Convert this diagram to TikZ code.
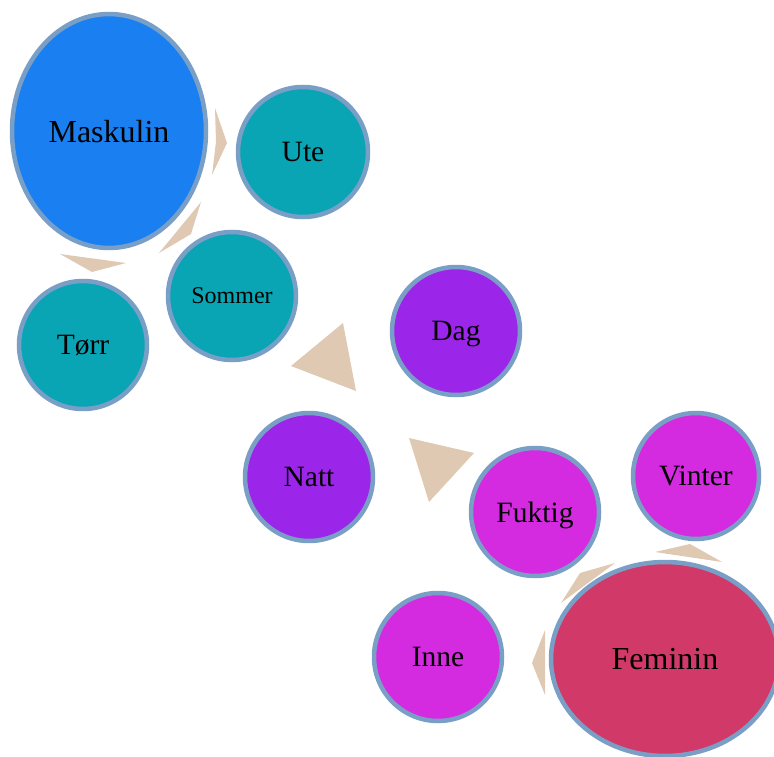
\documentclass[tikz,border=0pt]{standalone}
\usepackage{fontspec}
\setmainfont{Liberation Serif}
\usetikzlibrary{shapes.geometric}
\definecolor{rim}{HTML}{7A9FC7}
\definecolor{cblue}{HTML}{1A80F2}
\definecolor{cteal}{HTML}{0AA5B5}
\definecolor{cpurple}{HTML}{9B25E8}
\definecolor{cmag}{HTML}{D42AE0}
\definecolor{crose}{HTML}{D13A68}
\definecolor{tri}{HTML}{DFC9B2}
\tikzset{
  bubble/.style={circle, draw=rim, line width=4.5pt, inner sep=0pt, text depth=0pt, minimum size=#1, font=\fontsize{29.5}{34}\selectfont},
  bigbubble/.style={ellipse, draw=rim, line width=4.5pt, inner sep=0pt, text depth=0pt, font=\fontsize{32}{38}\selectfont},
  arrowtri/.style={fill=tri, draw=none}
}
\begin{document}
\begin{tikzpicture}[x=1pt,y=-1pt]
\useasboundingbox (0,0) rectangle (774,757);
% triangles
\fill[arrowtri] (215,108) -- (227,143) -- (212,175) -- (216,142) -- cycle;
\fill[arrowtri] (201,202) -- (191,234) -- (159,253) -- cycle;
\fill[arrowtri] (60,254) -- (126,263) -- (92,272) -- cycle;
\fill[arrowtri] (343,323) -- (356,391) -- (291,366) -- cycle;
\fill[arrowtri] (409,438) -- (474,453) -- (429,502) -- cycle;
\fill[arrowtri] (615,563) -- (580,573) -- (561,603) -- cycle;
\fill[arrowtri] (655,552) -- (690,544) -- (722,562) -- cycle;
\fill[arrowtri] (545,630) -- (532,663) -- (545,695) -- cycle;
% bubbles
\node[bigbubble, fill=cblue, minimum width=194pt, minimum height=234pt] (mask) at (109,131) {Maskulin};
\node[bubble=130pt, fill=cteal] (ute) at (303,152) {Ute};
\node[bubble=128pt, fill=cteal, font=\fontsize{24}{29}\selectfont] (som) at (232,296) {Sommer};
\node[bubble=128pt, fill=cteal] (torr) at (83,345) {Tørr};
\node[bubble=128pt, fill=cpurple] (dag) at (456,331) {Dag};
\node[bubble=128pt, fill=cpurple] (natt) at (309,477) {Natt};
\node[bubble=128pt, fill=cmag] (fukt) at (535,512) {Fuktig};
\node[bubble=126pt, fill=cmag] (vint) at (696,476) {Vinter};
\node[bubble=128pt, fill=cmag] (inne) at (438,657) {Inne};
\node[bigbubble, fill=crose, minimum width=228pt, minimum height=194pt] (fem) at (665,659) {Feminin};
\end{tikzpicture}
\end{document}
